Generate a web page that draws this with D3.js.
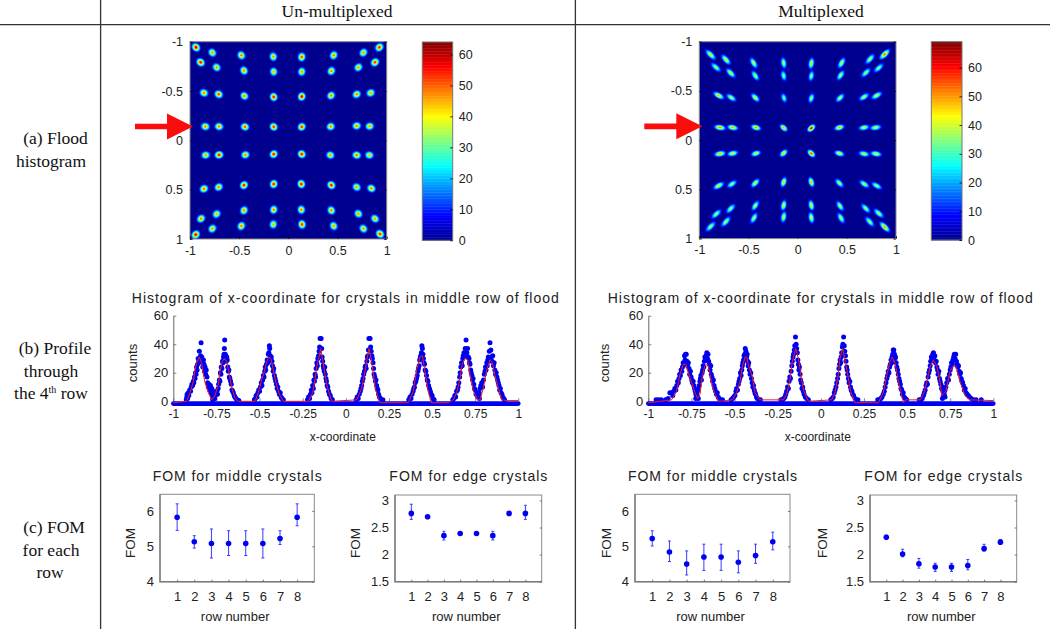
<!DOCTYPE html>
<html>
<head>
<meta charset="utf-8">
<style>
html,body{margin:0;padding:0;background:#fff}
svg{display:block}
text{font-family:"Liberation Sans",Arial,sans-serif;fill:#222}
.serif{font-family:"Liberation Serif","Times New Roman",serif;fill:#111;font-size:17.5px}
</style>
<script src="https://cdn.jsdelivr.net/npm/d3@7/dist/d3.min.js"></script>
</head>
<body>
<script>
// ---------- DATA ----------
const columnHeaders = ["Un-multiplexed", "Multiplexed"];
const rowLabels = [["(a) Flood", "histogram"], ["(b) Profile", "through", "the 4|th| row"], ["(c) FOM", "for each", "row"]];
const floodTicks = [-1, -0.5, 0, 0.5, 1];
const colorbarTicks = [0, 10, 20, 30, 40, 50, 60];
const profileXTicks = [-1, -0.75, -0.5, -0.25, 0, 0.25, 0.5, 0.75, 1];
const profileYTicks = [0, 20, 40, 60];
const rowNumbers = [1, 2, 3, 4, 5, 6, 7, 8];
const middleFomTicks = [4, 5, 6];
const edgeFomTicks = [1.5, 2, 2.5, 3];
const profileTitle = "Histogram of x-coordinate for crystals in middle row of flood";
const arrowRowY = -0.14;

// crystal positions in the flood maps, one line per row
const unmuxFloodX = [
  [-.939,-.773,-.478,-.153,.136,.461,.763,.925],
  [-.892,-.729,-.451,-.149,.136,.437,.712,.881],
  [-.858,-.708,-.447,-.149,.136,.434,.695,.837],
  [-.844,-.705,-.441,-.149,.136,.431,.695,.827],
  [-.841,-.705,-.437,-.149,.136,.427,.695,.824],
  [-.858,-.708,-.451,-.149,.132,.437,.695,.844],
  [-.888,-.729,-.451,-.149,.132,.437,.712,.881],
  [-.942,-.773,-.478,-.153,.139,.461,.763,.932]];
const unmuxFloodY = [
  [-.943,-.889,-.862,-.848,-.845,-.862,-.889,-.943],
  [-.791,-.74,-.707,-.696,-.696,-.703,-.74,-.791],
  [-.481,-.467,-.45,-.44,-.444,-.454,-.467,-.481],
  [-.14,-.14,-.137,-.137,-.137,-.14,-.147,-.143],
  [.15,.147,.147,.14,.14,.15,.15,.15],
  [.491,.474,.454,.443,.443,.454,.474,.487],
  [.794,.747,.71,.703,.703,.71,.744,.794],
  [.956,.895,.868,.852,.852,.868,.895,.949]];
const unmuxFloodPeak = [
  [63,50,52,50,56,52,50,58],
  [60,50,52,48,50,52,50,58],
  [52,56,52,60,62,52,52,50],
  [52,52,56,58,58,52,52,50],
  [50,60,52,60,60,50,54,48],
  [54,52,60,60,60,60,50,52],
  [52,48,52,52,52,52,50,50],
  [62,50,52,48,58,50,50,58]];
const muxFloodX = [
  [-.885,-.729,-.447,-.142,.139,.447,.736,.885],
  [-.831,-.681,-.431,-.142,.139,.437,.695,.824],
  [-.803,-.675,-.431,-.139,.139,.431,.675,.803],
  [-.79,-.661,-.424,-.142,.139,.424,.675,.793],
  [-.79,-.661,-.424,-.142,.139,.424,.675,.797],
  [-.803,-.668,-.431,-.142,.139,.424,.678,.803],
  [-.827,-.681,-.431,-.142,.139,.431,.692,.824],
  [-.885,-.729,-.444,-.142,.139,.441,.732,.885]];
const muxFloodY = [
  [-.868,-.818,-.784,-.784,-.78,-.784,-.824,-.872],
  [-.74,-.682,-.655,-.655,-.652,-.659,-.686,-.733],
  [-.453,-.432,-.432,-.429,-.426,-.429,-.439,-.453],
  [-.128,-.128,-.128,-.125,-.122,-.128,-.128,-.128],
  [.139,.135,.135,.132,.135,.135,.139,.139],
  [.463,.446,.436,.426,.426,.436,.446,.463],
  [.75,.696,.666,.662,.662,.669,.693,.743],
  [.878,.828,.791,.78,.787,.791,.828,.882]];
const muxFloodPeak = [
  [46,46,44,42,46,44,42,56],
  [40,44,42,38,38,42,40,38],
  [50,42,46,36,40,42,42,44],
  [54,52,54,52,66,52,44,44],
  [52,46,46,50,60,48,44,46],
  [46,40,46,50,52,42,42,40],
  [40,40,42,46,46,42,40,42],
  [40,42,42,44,46,42,40,54]];

// histogram bins as [x-coordinate, counts]
const unmuxBins = [
  [-.925,1],[-.922,3],[-.92,5],[-.917,2],[-.913,6],[-.91,4],[-.905,8],[-.9,7],[-.896,10],[-.892,12],[-.888,11],[-.884,14],[-.881,13],[-.877,17],[-.874,16],[-.871,20],[-.868,19],[-.865,24],[-.862,22],[-.859,26],[-.856,30],[-.852,28],[-.849,35],[-.845,30],[-.842,32],[-.839,41],[-.835,31],[-.832,27],[-.829,24],[-.825,29],[-.822,26],[-.819,21],[-.816,24],[-.812,19],[-.809,22],[-.805,17],[-.801,13],[-.797,10],[-.793,12],[-.789,8],[-.785,11],[-.781,6],[-.777,9],[-.773,4],[-.769,7],[-.765,3],[-.76,2],
  [-.772,1],[-.768,3],[-.762,2],[-.757,4],[-.752,5],[-.747,7],[-.744,5],[-.74,9],[-.737,12],[-.733,15],[-.73,14],[-.727,20],[-.724,19],[-.722,24],[-.718,23],[-.715,28],[-.712,27],[-.709,31],[-.706,33],[-.704,37],[-.702,43],[-.699,33],[-.696,32],[-.693,28],[-.69,31],[-.687,29],[-.684,24],[-.681,21],[-.678,22],[-.675,17],[-.672,16],[-.668,14],[-.664,12],[-.66,8],[-.656,7],[-.652,6],[-.647,4],[-.643,3],[-.637,2],[-.63,1],[-.62,.5],
  [-.53,1],[-.525,2],[-.52,4],[-.515,3],[-.51,6],[-.505,8],[-.5,7],[-.495,10],[-.49,13],[-.486,11],[-.482,15],[-.478,18],[-.474,17],[-.47,21],[-.467,24],[-.464,22],[-.46,26],[-.456,29],[-.452,27],[-.449,33],[-.446,34],[-.443,39],[-.441,37],[-.438,32],[-.435,30],[-.432,31],[-.428,28],[-.425,25],[-.421,21],[-.418,23],[-.414,18],[-.41,16],[-.406,14],[-.402,12],[-.398,9],[-.394,10],[-.39,7],[-.385,5],[-.38,6],[-.375,3],[-.37,2],[-.362,1],
  [-.222,1],[-.216,3],[-.21,2],[-.205,5],[-.2,8],[-.196,6],[-.192,11],[-.188,9],[-.185,15],[-.182,14],[-.178,19],[-.175,17],[-.172,23],[-.168,27],[-.165,25],[-.162,30],[-.158,32],[-.155,35],[-.152,38],[-.149,44],[-.143,44],[-.14,37],[-.137,31],[-.134,28],[-.131,25],[-.128,23],[-.125,21],[-.122,24],[-.119,19],[-.115,16],[-.112,14],[-.108,11],[-.104,10],[-.1,7],[-.095,5],[-.09,4],[-.085,2],[-.078,1],
  [.06,1],[.066,3],[.072,2],[.078,5],[.084,7],[.088,9],[.092,11],[.096,14],[.1,16],[.104,19],[.108,21],[.112,24],[.115,25],[.118,23],[.122,28],[.125,31],[.128,32],[.131,36],[.134,44],[.141,44],[.144,38],[.147,35],[.151,32],[.154,30],[.158,27],[.161,23],[.164,19],[.168,17],[.172,14],[.175,15],[.179,11],[.182,9],[.186,8],[.19,5],[.195,3],[.2,2],[.206,1],[.215,1],
  [.365,1],[.372,3],[.378,2],[.384,5],[.39,7],[.394,9],[.398,10],[.402,13],[.406,14],[.41,16],[.414,18],[.418,21],[.421,23],[.425,25],[.428,29],[.432,31],[.435,32],[.438,34],[.441,39],[.444,37],[.447,33],[.45,30],[.453,27],[.456,26],[.46,22],[.464,21],[.468,18],[.472,15],[.476,14],[.48,11],[.485,9],[.49,7],[.495,5],[.5,4],[.505,2],[.512,1],
  [.62,1],[.626,2],[.632,4],[.637,3],[.642,7],[.647,8],[.651,10],[.655,13],[.66,17],[.663,20],[.667,24],[.671,27],[.675,25],[.678,30],[.681,32],[.685,34],[.688,32],[.692,37],[.697,43],[.702,34],[.706,37],[.71,31],[.714,30],[.717,27],[.72,26],[.724,22],[.727,20],[.731,18],[.735,15],[.738,16],[.742,12],[.746,9],[.75,8],[.755,5],[.76,6],[.765,3],[.77,4],[.775,2],
  [.768,3],[.773,6],[.778,9],[.783,11],[.788,13],[.793,10],[.798,15],[.803,19],[.807,21],[.81,24],[.813,22],[.817,27],[.82,25],[.823,29],[.826,31],[.829,28],[.832,35],[.836,41],[.841,36],[.844,31],[.848,28],[.852,32],[.856,25],[.86,27],[.864,22],[.868,19],[.872,20],[.876,17],[.88,15],[.884,13],[.888,11],[.892,8],[.896,9],[.9,6],[.905,5],[.91,3],[.915,2],[.92,1]];
const unmuxFit = [
  [-1,-1],[-.923,0],[-.903,6],[-.884,14],[-.874,22],[-.865,27],[-.849,31],[-.836,27],[-.826,19],[-.816,13],[-.797,6],[-.778,1],[-.758,4],[-.739,12],[-.729,21],[-.716,28],[-.704,30],[-.691,28],[-.677,20],[-.662,10],[-.642,2],[-.623,0],[-.526,0],[-.507,6],[-.488,15],[-.472,21],[-.459,28],[-.445,31],[-.434,30],[-.42,22],[-.405,13],[-.385,5],[-.362,0],[-.217,0],[-.192,6],[-.179,15],[-.169,24],[-.155,31],[-.146,37],[-.134,29],[-.121,19],[-.107,10],[-.082,0],[.063,1],[.092,9],[.111,21],[.125,31],[.134,37],[.15,28],[.16,19],[.173,8],[.198,-1],[.362,-1],[.391,7],[.411,22],[.43,31],[.444,32],[.459,21],[.475,9],[.494,-1],[.594,-1],[.623,1],[.643,6],[.662,16],[.675,26],[.691,30],[.707,29],[.72,19],[.74,7],[.764,1],[.778,1],[.797,9],[.817,22],[.836,29],[.85,27],[.865,18],[.885,9],[.904,1],[.933,.5],[1,.5]];
const muxBins = [
  [-.955,1],[-.94,1],[-.925,1],[-.9,1],[-.885,2],[-.875,6],[-.865,6],[-.858,4],[-.852,7],[-.846,9],[-.84,8],[-.835,11],[-.83,14],[-.826,13],[-.822,16],[-.818,19],[-.814,18],[-.81,22],[-.806,21],[-.802,24],[-.798,27],[-.794,26],[-.79,32],[-.787,29],[-.784,33],[-.78,33],[-.776,28],[-.772,25],[-.768,27],[-.764,23],[-.76,19],[-.756,21],[-.752,17],[-.748,15],[-.744,13],[-.74,14],[-.736,11],[-.732,9],[-.728,7],[-.724,5],[-.72,6],[-.715,3],[-.71,2],
  [-.725,2],[-.72,4],[-.715,7],[-.71,9],[-.705,11],[-.701,14],[-.698,16],[-.695,18],[-.692,15],[-.688,20],[-.685,22],[-.682,25],[-.678,24],[-.675,28],[-.672,31],[-.668,29],[-.665,32],[-.661,34],[-.657,30],[-.654,33],[-.65,28],[-.646,26],[-.642,22],[-.638,25],[-.635,19],[-.631,17],[-.627,14],[-.623,15],[-.619,11],[-.615,9],[-.61,7],[-.605,5],[-.6,6],[-.595,3],[-.59,2],[-.58,1],[-.57,1],
  [-.52,1],[-.512,2],[-.505,3],[-.498,4],[-.492,7],[-.488,9],[-.483,8],[-.478,12],[-.474,14],[-.47,16],[-.466,20],[-.462,18],[-.458,22],[-.455,25],[-.452,27],[-.448,29],[-.445,32],[-.441,33],[-.438,37],[-.434,35],[-.43,31],[-.427,33],[-.424,28],[-.421,25],[-.418,27],[-.414,22],[-.41,19],[-.406,20],[-.402,16],[-.398,13],[-.394,10],[-.39,11],[-.386,8],[-.382,6],[-.378,5],[-.373,3],[-.368,2],[-.36,1],[-.35,1],
  [-.23,1],[-.222,1],[-.215,2],[-.208,3],[-.203,5],[-.198,7],[-.193,10],[-.188,9],[-.184,14],[-.18,17],[-.176,16],[-.172,21],[-.168,25],[-.165,28],[-.161,31],[-.158,33],[-.154,36],[-.151,39],[-.147,45],[-.143,40],[-.14,37],[-.136,34],[-.133,29],[-.13,26],[-.127,22],[-.124,24],[-.12,19],[-.117,15],[-.113,13],[-.109,9],[-.105,10],[-.101,7],[-.097,5],[-.09,3],[-.082,2],[-.072,1],
  [.058,1],[.066,2],[.072,3],[.078,6],[.083,8],[.088,10],[.092,13],[.097,16],[.101,19],[.105,23],[.109,26],[.112,29],[.115,27],[.118,31],[.121,34],[.125,38],[.128,40],[.132,45],[.136,39],[.139,35],[.143,32],[.146,28],[.15,24],[.153,22],[.156,19],[.16,16],[.164,13],[.168,14],[.172,10],[.176,8],[.18,7],[.185,5],[.19,4],[.198,2],[.206,1],[.215,1],
  [.33,1],[.34,1],[.348,2],[.355,3],[.362,5],[.368,7],[.373,10],[.378,13],[.383,16],[.387,18],[.391,21],[.395,20],[.399,24],[.403,26],[.407,29],[.41,27],[.413,31],[.417,33],[.42,36],[.423,36],[.427,33],[.43,30],[.433,31],[.437,27],[.441,24],[.445,22],[.449,19],[.453,16],[.457,14],[.461,12],[.465,9],[.469,8],[.473,5],[.478,6],[.483,3],[.49,2],[.498,1],
  [.57,1],[.58,1],[.588,2],[.595,4],[.6,6],[.605,8],[.61,11],[.614,13],[.618,12],[.622,17],[.626,20],[.63,22],[.634,25],[.637,28],[.641,31],[.645,29],[.649,33],[.653,34],[.657,31],[.661,32],[.665,27],[.669,28],[.673,24],[.677,22],[.68,19],[.684,21],[.688,16],[.692,14],[.696,12],[.7,9],[.704,10],[.708,7],[.712,5],[.716,4],[.72,3],
  [.705,2],[.71,4],[.715,6],[.72,8],[.725,10],[.73,13],[.735,16],[.74,15],[.745,19],[.75,22],[.754,24],[.758,27],[.762,26],[.766,29],[.77,31],[.774,33],[.778,30],[.782,33],[.786,28],[.79,26],[.794,24],[.798,25],[.802,21],[.806,19],[.81,20],[.814,16],[.818,14],[.822,13],[.827,11],[.832,8],[.837,9],[.842,6],[.848,5],[.855,4],[.862,3],[.872,2],[.885,1],[.9,1],[.93,1]];
const muxFit = [
  [-1,-1],[-.865,1],[-.836,7],[-.816,19],[-.797,26],[-.783,26],[-.768,20],[-.748,13],[-.729,6],[-.714,2],[-.7,5],[-.687,18],[-.671,25],[-.656,26],[-.642,19],[-.632,12],[-.613,5],[-.59,0],[-.512,1],[-.488,6],[-.468,14],[-.455,24],[-.44,31],[-.43,31],[-.416,24],[-.397,17],[-.381,6],[-.352,1],[-.217,1],[-.198,5],[-.179,15],[-.165,28],[-.146,37],[-.13,30],[-.117,20],[-.101,8],[-.072,0],[.063,1],[.082,6],[.102,19],[.111,30],[.127,37],[.14,29],[.154,20],[.173,7],[.198,-1],[.334,-1],[.362,6],[.382,18],[.401,28],[.415,31],[.43,27],[.45,14],[.469,4],[.479,-1],[.49,1],[.575,1],[.595,5],[.614,13],[.633,24],[.652,29],[.672,25],[.691,14],[.701,4],[.726,7],[.749,21],[.768,25],[.784,24],[.807,14],[.836,4],[.865,1],[1,.5]];
const zeroCountBand = [[-1,-1.6],[1,-1.6]];

// FOM per row: mean, low, high
const unmuxMiddleFom = [5.82,5.13,5.08,5.08,5.08,5.08,5.22,5.82];
const unmuxMiddleLow = [5.45,4.95,4.67,4.74,4.74,4.67,5.05,5.58];
const unmuxMiddleHigh = [6.2,5.3,5.49,5.44,5.44,5.49,5.44,6.2];
const unmuxEdgeFom = [2.76,2.70,2.35,2.39,2.39,2.35,2.76,2.76];
const unmuxEdgeLow = [2.65,2.68,2.27,2.37,2.37,2.27,2.74,2.65];
const unmuxEdgeHigh = [2.93,2.72,2.43,2.41,2.41,2.43,2.78,2.91];
const muxMiddleFom = [5.22,4.84,4.50,4.70,4.70,4.55,4.74,5.13];
const muxMiddleLow = [5.01,4.57,4.19,4.32,4.32,4.25,4.52,4.90];
const muxMiddleHigh = [5.44,5.15,4.87,5.06,5.06,4.87,5.06,5.40];
const muxEdgeFom = [2.32,2.01,1.83,1.77,1.77,1.80,2.11,2.23];
const muxEdgeLow = [2.28,1.96,1.75,1.69,1.69,1.72,2.07,2.20];
const muxEdgeHigh = [2.36,2.10,1.93,1.84,1.84,1.91,2.19,2.28];

// ---------- DRAW ----------
const svg = d3.select("body").append("svg").attr("width",1050).attr("height",629);
const defs = svg.append("defs");
defs.append("filter").attr("id","soft").attr("x","-30%").attr("y","-30%").attr("width","160%").attr("height","160%")
  .append("feGaussianBlur").attr("stdDeviation",0.45);

const jet = d3.scaleLinear()
  .domain([0,.125,.375,.625,.875,1])
  .range(["#00008f","#0000ff","#00ffff","#ffff00","#ff0000","#800000"])
  .clamp(true);

function styleAxis(g, tickColor, lineColor, size){
  g.selectAll("text").attr("font-size",size).attr("fill","#222");
  g.selectAll(".tick line").attr("stroke",tickColor).attr("stroke-width",0.8);
  g.selectAll(".domain").attr("stroke",lineColor||"none");
}

// table rules
const rules = svg.append("g").attr("stroke","#333").attr("stroke-width",1.3);
rules.append("line").attr("x1",0).attr("x2",1050).attr("y1",24.6).attr("y2",24.6);
rules.append("line").attr("x1",100.6).attr("x2",100.6).attr("y1",0).attr("y2",629);
rules.append("line").attr("x1",575.4).attr("x2",575.4).attr("y1",0).attr("y2",629);

// headers and row labels
svg.selectAll(".hdr").data(columnHeaders).join("text").attr("class","serif")
  .attr("x",(d,i)=>[337,821][i]).attr("y",17).attr("text-anchor","middle").text(d=>d);
const labelPos = [[[55.5,144],[51,167]],[[55,354],[51,377],[51,399]],[[54,533],[51,556],[50,578]]];
rowLabels.forEach((lines,i)=>lines.forEach((s,j)=>{
  const t = svg.append("text").attr("class","serif").attr("text-anchor","middle")
    .attr("x",labelPos[i][j][0]).attr("y",labelPos[i][j][1]);
  const parts = s.split("|");
  if(parts.length===3){
    t.append("tspan").text(parts[0]);
    t.append("tspan").attr("dy",-6).attr("font-size",10).text(parts[1]);
    t.append("tspan").attr("dy",6).text(parts[2]);
  } else t.text(s);
}));

function flood(box, barBox, xsRows, ysRows, peaks, maxVal, aspectMax, longR, shortR, idp){
  const x = d3.scaleLinear().domain([-1,1]).range([box.x0,box.x1]);
  const y = d3.scaleLinear().domain([-1,1]).range([box.y0,box.y1]);
  const g = svg.append("g");
  const clip = defs.append("clipPath").attr("id","clip"+idp);
  clip.append("rect").attr("x",box.x0).attr("y",box.y0).attr("width",box.x1-box.x0).attr("height",box.y1-box.y0);
  g.append("rect").attr("x",box.x0).attr("y",box.y0).attr("width",box.x1-box.x0).attr("height",box.y1-box.y0)
    .attr("fill",jet(0));

  const falloff = [[0,1],[.14,.9],[.28,.74],[.42,.56],[.56,.4],[.7,.25],[.85,.11],[1,0]];
  const pts = [];
  xsRows.forEach((row,r)=>row.forEach((vx,c)=>pts.push({x:vx,y:ysRows[r][c],p:peaks[r][c]})));
  const uniq = Array.from(new Set(pts.map(d=>d.p)));
  uniq.forEach(p=>{
    const gr = defs.append("radialGradient").attr("id",`b${idp}${p}`);
    falloff.forEach(([o,f])=>gr.append("stop").attr("offset",o)
      .attr("stop-color",jet(p*f/maxVal)).attr("stop-opacity",o===1?0:1));
  });
  const stretch = d3.scaleLinear().domain([0,1.3]).range([1,aspectMax]).clamp(true);
  g.append("g").attr("clip-path",`url(#clip${idp})`).attr("filter","url(#soft)")
    .selectAll("ellipse").data(pts).join("ellipse")
    .attr("rx",d=>longR*stretch(Math.hypot(d.x,d.y)))
    .attr("ry",d=>shortR*(2-stretch(Math.hypot(d.x,d.y))*0.0-1)+0*longR)
    .attr("transform",d=>`translate(${x(d.x)},${y(d.y)}) rotate(${Math.atan2(y(d.y)-y(0),x(d.x)-x(0))*180/Math.PI})`)
    .attr("fill",d=>`url(#b${idp}${d.p})`);

  g.append("rect").attr("x",box.x0).attr("y",box.y0).attr("width",box.x1-box.x0).attr("height",box.y1-box.y0)
    .attr("fill","none").attr("stroke","#8a8a8a").attr("stroke-width",1);

  const fmt = d=>String(d);
  const ax = g.append("g").attr("transform",`translate(0,${box.y1})`)
    .call(d3.axisBottom(x).tickValues(floodTicks).tickFormat(fmt).tickSize(-2.5).tickPadding(7));
  styleAxis(ax,"#000",null,12.5);
  const ay = g.append("g").attr("transform",`translate(${box.x0},0)`)
    .call(d3.axisLeft(y).tickValues(floodTicks).tickFormat(fmt).tickSize(-2.5).tickPadding(7));
  styleAxis(ay,"#000",null,12.5);
  const ar = g.append("g").attr("transform",`translate(${box.x1},0)`)
    .call(d3.axisRight(y).tickValues(floodTicks).tickFormat("").tickSize(-2.5));
  styleAxis(ar,"#000",null,12.5);

  // arrow pointing at the 4th row
  const tipX = x(-1)+3, tipY = y(arrowRowY);
  g.append("path").attr("fill","#fb0d0d")
    .attr("d",`M${tipX-58},${tipY-2.8}H${tipX-26}V${tipY-13}L${tipX},${tipY}L${tipX-26},${tipY+13}V${tipY+2.8}H${tipX-58}Z`);

  // colorbar
  const c = d3.scaleLinear().domain([0,maxVal]).range([barBox.y0,barBox.y1]);
  const bar = svg.append("g");
  bar.selectAll("rect").data(d3.range(0,maxVal,0.5)).join("rect")
    .attr("x",barBox.x0).attr("width",barBox.x1-barBox.x0)
    .attr("y",d=>c(d+0.5)).attr("height",d=>c(d)-c(d+0.5)+0.4)
    .attr("fill",d=>jet((d+.25)/maxVal));
  bar.append("rect").attr("x",barBox.x0).attr("y",barBox.y1).attr("width",barBox.x1-barBox.x0).attr("height",barBox.y0-barBox.y1)
    .attr("fill","none").attr("stroke","#777").attr("stroke-width",1);
  const cb = bar.append("g").attr("transform",`translate(${barBox.x1},0)`)
    .call(d3.axisRight(c).tickValues(colorbarTicks).tickFormat(fmt).tickSize(-2.5).tickPadding(6));
  styleAxis(cb,"#000",null,12.5);
}

flood({x0:190,x1:386.7,y0:41.7,y1:239},{x0:422.3,x1:452.7,y0:240.3,y1:42},
  unmuxFloodX,unmuxFloodY,unmuxFloodPeak,64,1.1,5.6,5.2,"u");
flood({x0:699.3,x1:896,y0:41.7,y1:238.6},{x0:931.3,x1:962,y0:240,y1:41.7},
  muxFloodX,muxFloodY,muxFloodPeak,69,1.55,5.8,3.9,"m");

function profile(x0,x1,titleW,bins,fit,counts){
  const x = d3.scaleLinear().domain([-1,1]).range([x0,x1]);
  const y = d3.scaleLinear().domain([0,60]).range([401.3,315.7]);
  const g = svg.append("g");
  svg.append("text").attr("x",(x0+x1)/2-0.5).attr("y",303).attr("text-anchor","middle")
    .attr("font-size",14).attr("textLength",titleW).attr("lengthAdjust","spacing").text(profileTitle);
  const ax = g.append("g").attr("transform","translate(0,401.3)")
    .call(d3.axisBottom(x).tickValues(profileXTicks).tickFormat(d=>String(d)).tickSize(-3).tickPadding(8));
  styleAxis(ax,"#666",null,12);
  const ay = g.append("g").attr("transform",`translate(${x0},0)`)
    .call(d3.axisLeft(y).tickValues(profileYTicks).tickFormat(d=>String(d)).tickSize(-3).tickSizeOuter(0).tickPadding(5));
  styleAxis(ay,"#666","#666",13);
  const zl = d3.line().x(d=>x(d[0])).y(d=>y(d[1]));
  g.append("path").attr("d",zl(zeroCountBand)).attr("stroke","#0000f0").attr("stroke-width",4.6)
    .attr("stroke-linecap","round").attr("fill","none");
  g.append("g").selectAll("circle").data(bins).join("circle")
    .attr("cx",d=>x(d[0])).attr("cy",d=>y(d[1])).attr("r",2.5).attr("fill","#0000f0");
  g.append("path").attr("d",zl(fit)).attr("stroke","#f51a1a").attr("stroke-width",1).attr("fill","none");
  svg.append("text").attr("x",(x0+x1)/2-3).attr("y",441).attr("text-anchor","middle").attr("font-size",12).text("x-coordinate");
  svg.append("text").attr("transform",`translate(${counts},363) rotate(-90)`).attr("text-anchor","middle").attr("font-size",13).text("counts");
}
profile(173.3,518.3,427,unmuxBins,unmuxFit,137);
profile(648.3,993.3,425,muxBins,muxFit,609);

function fom(x0,x1,top,dom,ticks,title,titleW,labelX,vals,low,high){
  const y0 = 581.7;
  const x = d3.scaleLinear().domain([0,9]).range([x0,x1]);
  const y = d3.scaleLinear().domain(dom).range([y0,top]);
  const g = svg.append("g");
  g.append("rect").attr("x",x0).attr("y",top).attr("width",x1-x0).attr("height",y0-top)
    .attr("fill","none").attr("stroke","#8a8a8a").attr("stroke-width",1);
  g.append("path").attr("d",`M${x0},${top}V${y0}H${x1}`).attr("fill","none").attr("stroke","#7a7a7a").attr("stroke-width",1.4);
  const ax = g.append("g").attr("transform",`translate(0,${y0})`)
    .call(d3.axisBottom(x).tickValues(rowNumbers).tickFormat(d=>String(d)).tickSize(-2).tickPadding(10));
  styleAxis(ax,"#555",null,13);
  const ay = g.append("g").attr("transform",`translate(${x0},0)`)
    .call(d3.axisLeft(y).tickValues(ticks).tickFormat(d=>String(d)).tickSize(0).tickPadding(6));
  styleAxis(ay,"#555",null,13);
  const ar = g.append("g").attr("transform",`translate(${x1},0)`)
    .call(d3.axisRight(y).tickValues(ticks).tickFormat("").tickSize(-2));
  styleAxis(ar,"#555",null,13);
  const rows = rowNumbers.map((r,i)=>({r,v:vals[i],lo:low[i],hi:high[i]}));
  const err = g.append("g").attr("stroke","#3a3aff").attr("stroke-width",1).attr("fill","none");
  err.selectAll("path").data(rows).join("path")
    .attr("d",d=>`M${x(d.r)-1.5},${y(d.lo)}h3M${x(d.r)},${y(d.lo)}V${y(d.hi)}M${x(d.r)-1.5},${y(d.hi)}h3`);
  g.append("g").selectAll("circle").data(rows).join("circle")
    .attr("cx",d=>x(d.r)).attr("cy",d=>y(d.v)).attr("r",2.8).attr("fill","#0000f0");
  svg.append("text").attr("x",(x0+x1)/2).attr("y",481).attr("text-anchor","middle")
    .attr("font-size",14).attr("textLength",titleW).attr("lengthAdjust","spacing").text(title);
  svg.append("text").attr("x",(x0+x1)/2-2).attr("y",621).attr("text-anchor","middle").attr("font-size",13).text("row number");
  svg.append("text").attr("transform",`translate(${labelX},543) rotate(-90)`).attr("text-anchor","middle").attr("font-size",13.5).text("FOM");
}
const midTitle = "FOM for middle crystals", edgeTitle = "FOM for edge crystals";
fom(160,314.3,494.3,[4,6.47],middleFomTicks,midTitle,169,135,unmuxMiddleFom,unmuxMiddleLow,unmuxMiddleHigh);
fom(395,541.7,495,[1.5,3.1],edgeFomTicks,edgeTitle,158,360,unmuxEdgeFom,unmuxEdgeLow,unmuxEdgeHigh);
fom(635,790,494.3,[4,6.47],middleFomTicks,midTitle,169,610.5,muxMiddleFom,muxMiddleLow,muxMiddleHigh);
fom(870,1016.7,495,[1.5,3.1],edgeFomTicks,edgeTitle,158,827,muxEdgeFom,muxEdgeLow,muxEdgeHigh);
</script>
</body>
</html>
